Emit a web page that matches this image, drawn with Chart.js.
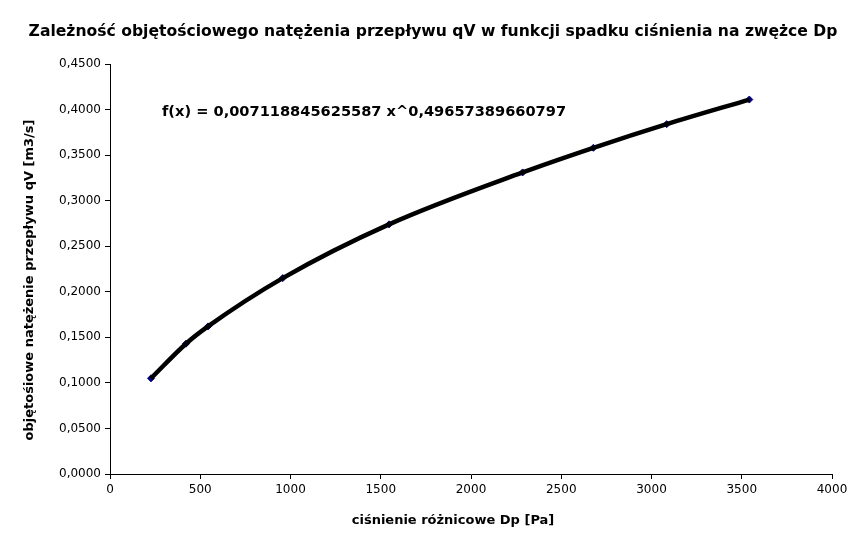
<!DOCTYPE html>
<html>
<head>
<meta charset="utf-8">
<script src="https://cdn.jsdelivr.net/npm/chart.js@4/dist/chart.umd.min.js"></script>
<style>
html,body{margin:0;padding:0;background:#fff;}
#wrap{width:866px;height:548px;}
</style>
</head>
<body>
<div id="wrap"><canvas id="c" width="866" height="548"></canvas></div>
<script>
const titleText = "Zależność objętościowego natężenia przepływu qV w funkcji spadku ciśnienia na zwężce Dp";
const xTitle = "ciśnienie różnicowe Dp [Pa]";
const yTitle = "objętośiowe natężenie przepływu qV [m3/s]";
const equationText = "f(x) = 0,007118845625587 x^0,49657389660797";

const dp = [227, 421, 543, 957, 1546, 2286, 2678, 3084, 3542];
const qv = [0.105, 0.143, 0.162, 0.215, 0.274, 0.331, 0.358, 0.384, 0.411];

const xMin = 0, xMax = 4000, xStep = 500;
const yMin = 0, yMax = 0.45, yStep = 0.05;

const pts = dp.map((x, i) => ({x: x, y: qv[i]}));

const FONT = "'DejaVu Sans', sans-serif";

const textPlugin = {
  id: 'texts',
  afterDatasetsDraw(chart) {
    const ctx = chart.ctx;
    const a = chart.chartArea;
    ctx.save();
    ctx.fillStyle = "#000";
    ctx.textBaseline = "middle";
    // chart title
    ctx.font = "bold 15.6px " + FONT;
    ctx.textAlign = "center";
    ctx.fillText(titleText, chart.width / 2, 32);
    // trendline equation
    ctx.font = "bold 14.6px " + FONT;
    ctx.textAlign = "left";
    ctx.fillText(equationText, a.left + 52, a.top + 48);
    // axis titles
    ctx.font = "bold 13px " + FONT;
    ctx.textAlign = "center";
    ctx.fillText(xTitle, 453, chart.height - 27);
    ctx.translate(30, 280);
    ctx.rotate(-Math.PI / 2);
    ctx.fillText(yTitle, 0, 0);
    ctx.restore();
  }
};

new Chart(document.getElementById('c'), {
  type: 'scatter',
  data: {
    datasets: [
      {
        label: 'trend',
        data: pts,
        showLine: true,
        borderColor: '#000',
        borderWidth: 4.5,
        pointRadius: 0,
        cubicInterpolationMode: 'monotone',
        fill: false
      },
      {
        label: 'qV',
        data: pts,
        showLine: false,
        pointStyle: 'rectRot',
        pointRadius: 3.5,
        backgroundColor: '#000080',
        borderColor: '#000080',
        borderWidth: 1
      }
    ]
  },
  options: {
    responsive: false,
    animation: false,
    devicePixelRatio: 1,
    layout: { padding: { left: 0, right: 34, top: 64, bottom: 0 } },
    plugins: {
      legend: { display: false },
      tooltip: { enabled: false },
      title: { display: false }
    },
    scales: {
      x: {
        type: 'linear',
        min: xMin, max: xMax,
        ticks: {
          stepSize: xStep,
          color: '#000',
          font: { family: FONT, size: 12 },
          padding: 4,
          callback: v => String(v)
        },
        grid: { drawOnChartArea: false, tickLength: 5, color: '#000', tickColor: '#000' },
        border: { color: '#000', width: 1 },
        afterFit(s) { s.height = 74; }
      },
      y: {
        type: 'linear',
        min: yMin, max: yMax,
        ticks: {
          stepSize: yStep,
          color: '#000',
          font: { family: FONT, size: 12 },
          padding: 4,
          callback: v => v.toFixed(4).replace('.', ',')
        },
        grid: { drawOnChartArea: false, tickLength: 5, color: '#000', tickColor: '#000' },
        border: { color: '#000', width: 1 },
        afterFit(s) { s.width = 110; }
      }
    }
  },
  plugins: [textPlugin]
});
</script>
</body>
</html>
